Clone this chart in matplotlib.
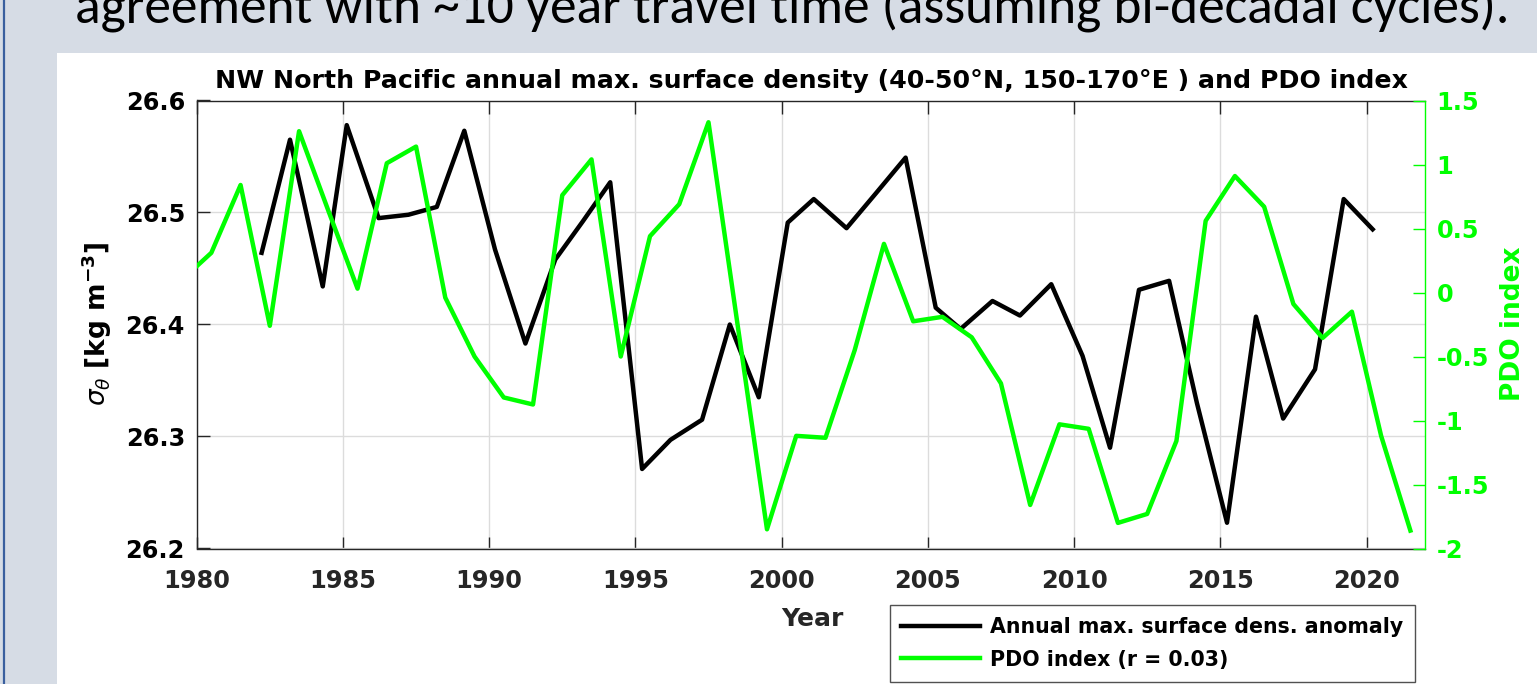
import matplotlib
matplotlib.use("Agg")
import matplotlib.pyplot as plt
from matplotlib.patches import Rectangle
from matplotlib.lines import Line2D

# ---------------- data ----------------
density_time = [1982.22, 1983.19, 1984.31, 1985.13, 1986.22, 1987.24, 1988.21, 1989.15,
                1990.20, 1991.24, 1992.26, 1993.20, 1994.14, 1995.23, 1996.20, 1997.28,
                1998.23, 1999.22, 2000.21, 2001.10, 2002.22, 2003.22, 2004.24, 2005.27,
                2006.12, 2007.21, 2008.15, 2009.22, 2010.29, 2011.23, 2012.22, 2013.25,
                2014.20, 2015.23, 2016.22, 2017.15, 2018.24, 2019.22, 2020.21]
density_value = [26.464, 26.565, 26.434, 26.578, 26.495, 26.498, 26.505, 26.573,
                 26.467, 26.383, 26.458, 26.492, 26.527, 26.271, 26.297, 26.315,
                 26.400, 26.335, 26.491, 26.512, 26.486, 26.517, 26.549, 26.415,
                 26.396, 26.421, 26.408, 26.436, 26.372, 26.290, 26.431, 26.439,
                 26.330, 26.223, 26.407, 26.316, 26.360, 26.512, 26.485]

pdo_time = [1979.5, 1980.5, 1981.5, 1982.5, 1983.5, 1984.5, 1985.5, 1986.5, 1987.5,
            1988.5, 1989.5, 1990.5, 1991.5, 1992.5, 1993.5, 1994.5, 1995.5, 1996.5,
            1997.5, 1998.5, 1999.5, 2000.5, 2001.5, 2002.5, 2003.5, 2004.5, 2005.5,
            2006.5, 2007.5, 2008.5, 2009.5, 2010.5, 2011.5, 2012.5, 2013.5, 2014.5,
            2015.5, 2016.5, 2017.5, 2018.5, 2019.5, 2020.5, 2021.5]
pdo_value = [0.10, 0.31, 0.84, -0.26, 1.26, 0.64, 0.03, 1.01, 1.14,
             -0.04, -0.50, -0.82, -0.875, 0.76, 1.04, -0.50, 0.44, 0.69,
             1.33, -0.26, -1.85, -1.12, -1.135, -0.45, 0.38, -0.225, -0.19,
             -0.35, -0.71, -1.66, -1.03, -1.065, -1.80, -1.73, -1.16, 0.56,
             0.91, 0.67, -0.09, -0.355, -0.15, -1.12, -1.86]

x_ticks = [1980, 1985, 1990, 1995, 2000, 2005, 2010, 2015, 2020]
x_labels = ["1980", "1985", "1990", "1995", "2000", "2005", "2010", "2015", "2020"]
left_ticks = [26.2, 26.3, 26.4, 26.5, 26.6]
left_labels = ["26.2", "26.3", "26.4", "26.5", "26.6"]
right_ticks = [-2, -1.5, -1, -0.5, 0, 0.5, 1, 1.5]
right_labels = ["-2", "-1.5", "-1", "-0.5", "0", "0.5", "1", "1.5"]

title = "NW North Pacific annual max. surface density (40-50\u00b0N, 150-170\u00b0E ) and PDO index"
legend_labels = ["Annual max. surface dens. anomaly", "PDO index (r = 0.03)"]
slide_text = "agreement with ~10 year travel time (assuming bi-decadal cycles)."

# ---------------- styling ----------------
W, H = 1537, 684
GREEN = "#00FF00"
AXC = "#262626"
plt.rcParams["font.family"] = ["DejaVu Sans"]

fig = plt.figure(figsize=(W / 100, H / 100), dpi=100)
fig.patch.set_facecolor("#D6DCE5")

def fx(px):
    return px / W

def fy(py):
    return 1 - py / H

# white panel of the slide
fig.add_artist(Rectangle((fx(57), 0), 1 - fx(57), fy(53), transform=fig.transFigure,
                         facecolor="white", edgecolor="none", zorder=0))
# left slide border
fig.add_artist(Line2D([fx(4), fx(4)], [0, 1], transform=fig.transFigure,
                      color="#3A5F9E", lw=1.6, zorder=1))
# slide text (cropped at the top, as in the slide)
fig.text(fx(75), fy(23), slide_text, family=["Carlito", "Lato", "DejaVu Sans"],
         fontsize=38.4, color="black", ha="left", va="baseline")

ax = fig.add_axes([fx(196.7), fy(548.5), fx(1425) - fx(196.7), fy(100.5) - fy(548.5)])
ax.set_facecolor("white")
l1, = ax.plot(density_time, density_value, color="black", lw=3.2, zorder=3)
ax.set_xlim(1980, 2022)
ax.set_ylim(26.2, 26.6)
ax.set_xticks(x_ticks)
ax.set_xticklabels(x_labels, fontsize=17.3, fontweight="bold", color=AXC)
ax.set_yticks(left_ticks)
ax.set_yticklabels(left_labels, fontsize=17.3, fontweight="bold", color="black")
ax.grid(True, color="#DCDCDC", lw=1.0, zorder=0)
ax.tick_params(axis="x", direction="in", length=9, width=1, color=AXC, top=True, pad=14.5)
ax.tick_params(axis="y", direction="in", length=9, width=1, color=AXC, right=False, pad=8.5)
for s in ["left", "top", "bottom"]:
    ax.spines[s].set_color(AXC)
    ax.spines[s].set_linewidth(1.0)
ax.spines["right"].set_visible(False)

ax2 = ax.twinx()
l2, = ax2.plot(pdo_time, pdo_value, color=GREEN, lw=3.2, zorder=3)
ax2.set_ylim(-2, 1.5)
ax2.set_yticks(right_ticks)
ax2.set_yticklabels(right_labels, fontsize=17.3, fontweight="bold", color=GREEN)
ax2.tick_params(axis="y", direction="in", length=9, width=1, color=GREEN, pad=8.3)
for s in ["left", "top", "bottom"]:
    ax2.spines[s].set_visible(False)
ax2.spines["right"].set_color(GREEN)
ax2.spines["right"].set_linewidth(1.0)

# title and axis labels
fig.text(fx(811), fy(88), title, fontsize=18.2, fontweight="bold", ha="center", va="baseline")
fig.text(fx(812), fy(626), "Year", fontsize=18, fontweight="bold", ha="center",
         va="baseline", color=AXC)
fig.text(fx(97), fy(324), r"$\sigma_\theta$ [kg m$^{\mathbf{-3}}$]", fontsize=19,
         fontweight="bold", rotation=90, ha="center", va="center")
fig.text(fx(1513), fy(324), "PDO index", fontsize=19, fontweight="bold", rotation=90,
         ha="center", va="center", color=GREEN)

leg = fig.legend([l1, l2], legend_labels, loc="upper left",
                 bbox_to_anchor=(fx(889.5), fy(605)), bbox_transform=fig.transFigure,
                 fontsize=14.8, frameon=True, fancybox=False, edgecolor=AXC,
                 handlelength=3.8, handletextpad=0.52, borderpad=0.58,
                 labelspacing=0.62, borderaxespad=0)
leg.get_frame().set_linewidth(1.0)
for t in leg.get_texts():
    t.set_fontweight("bold")

fig.savefig("out.png", dpi=100, facecolor=fig.get_facecolor())
